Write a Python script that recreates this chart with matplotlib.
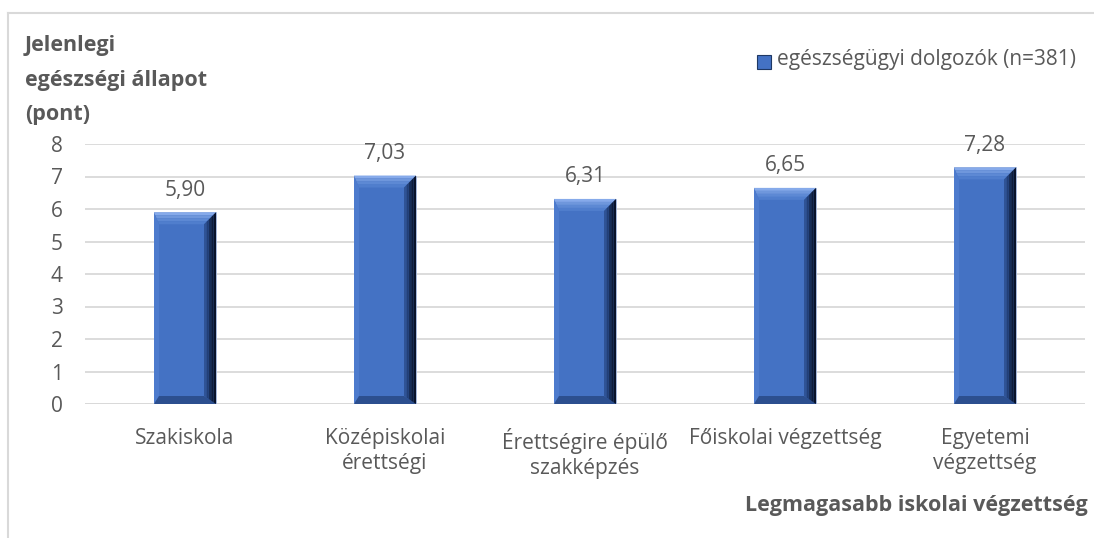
import matplotlib

matplotlib.use("Agg")
import matplotlib.pyplot as plt
from matplotlib.lines import Line2D
from matplotlib.patches import Polygon, Rectangle

categories = [
    "Szakiskola",
    "Középiskolai\nérettségi",
    "Érettségire épülő\nszakképzés",
    "Főiskolai végzettség",
    "Egyetemi\nvégzettség",
]
scores = [5.90, 7.03, 6.31, 6.65, 7.28]
series_name = "egészségügyi dolgozók (n=381)"
y_title = "Jelenlegi\negészségi állapot\n(pont)"
x_title = "Legmagasabb iskolai végzettség"
y_ticks = [0, 1, 2, 3, 4, 5, 6, 7, 8]

TEXT = "#595959"
GRID = "#d9d9d9"
FACE = "#4472c4"
FONT = "Open Sans"
FS = 15

W, H, DPI = 1094, 538, 100
fig = plt.figure(figsize=(W / DPI, H / DPI), dpi=DPI)
plt.rcParams["font.family"] = [FONT, "DejaVu Sans"]

# plot area in pixels (left, top, right, bottom)
L, T, R, B = 85, 144, 1085, 404
ax = fig.add_axes([L / W, 1 - B / H, (R - L) / W, (B - T) / H])
ax.set_xlim(-0.5, len(categories) - 0.5)
ax.set_ylim(0, 8)

# px -> data units
px_x = len(categories) / (R - L)
px_y = 8 / (B - T)

bar_w = 0.31
x = list(range(len(categories)))
ax.bar(x, scores, width=bar_w, color=FACE, edgecolor="#a7b9d9", linewidth=0.6, zorder=3)

# bevel look, a bit like the Excel one
bt, br, bl, bb = 12 * px_y, 12 * px_x, 5 * px_x, 8 * px_y
top_shades = ["#86aaea", "#6f97dc", "#5d89d4", "#507ecd"]
right_shades = ["#2f5396", "#223f78", "#172d58", "#0e1c3a", "#08122a"]
for xi, v in zip(x, scores):
    x0, x1 = xi - bar_w / 2, xi + bar_w / 2
    # top bevel in strips, light to main colour
    n = len(top_shades)
    for k, c in enumerate(top_shades):
        ya = v - bt * k / n
        yb = v - bt * (k + 1) / n
        xla = x0 + bl * k / n
        xlb = x0 + bl * (k + 1) / n
        xra = x1 - br * k / n
        xrb = x1 - br * (k + 1) / n
        ax.add_patch(Polygon([(xla, ya), (xra, ya), (xrb, yb), (xlb, yb)],
                             closed=True, facecolor=c, edgecolor="none", zorder=4))
    ax.add_patch(Polygon([(x0, v), (x0 + bl, v - bt), (x0 + bl, bb), (x0, 0)],
                         closed=True, facecolor="#4d7bcd", edgecolor="none", zorder=4))
    ax.add_patch(Polygon([(x0, 0), (x1, 0), (x1 - br, bb), (x0 + bl, bb)],
                         closed=True, facecolor="#2c4f8f", edgecolor="none", zorder=4))
    # right side, dark gradient in strips
    n = len(right_shades)
    for k, c in enumerate(right_shades):
        xa = x1 - br + br * k / n
        xb = x1 - br + br * (k + 1) / n
        ya_t = v - bt + bt * k / n
        yb_t = v - bt + bt * (k + 1) / n
        ya_b = bb - bb * k / n
        yb_b = bb - bb * (k + 1) / n
        ax.add_patch(Polygon([(xa, ya_t), (xb, yb_t), (xb, yb_b), (xa, ya_b)],
                             closed=True, facecolor=c, edgecolor="none", zorder=4))
    ax.annotate(f"{v:.2f}".replace(".", ","), (xi, v), xytext=(0, 12),
                textcoords="offset points", ha="center", va="baseline",
                fontsize=FS, color=TEXT)

ax.set_yticks(y_ticks)
ax.set_xticks(x)
ax.set_xticklabels(categories, fontsize=FS, color=TEXT, linespacing=1.3)
ax.tick_params(axis="x", length=0, pad=17)
ax.tick_params(axis="y", length=0, pad=16, labelsize=FS, labelcolor=TEXT)
ax.grid(axis="y", color=GRID, lw=1.3, zorder=0)
ax.set_axisbelow(True)
for s in ax.spines.values():
    s.set_visible(False)
ax.axhline(0, color=GRID, lw=1.3, zorder=2)

# titles
fig.text(25 / W, 1 - 35 / H, y_title, ha="left", va="top", fontsize=15.5,
         fontweight="bold", color=TEXT, linespacing=1.85)
fig.text(745 / W, 1 - 506 / H, x_title, ha="left", va="center", fontsize=15.5,
         fontweight="bold", color=TEXT)

# legend
fig.patches.append(Rectangle((757 / W, 1 - 69 / H), 14 / W, 14 / H, transform=fig.transFigure,
                             facecolor=FACE, edgecolor="#1f3864", lw=0.8))
fig.text(777 / W, 1 - 60 / H, series_name, ha="left", va="center", fontsize=FS, color=TEXT)

# chart frame
fig.lines.append(Line2D([8 / W, 1], [1 - 13 / H, 1 - 13 / H], transform=fig.transFigure,
                        color=GRID, lw=1.5))
fig.lines.append(Line2D([8 / W, 8 / W], [0, 1 - 13 / H], transform=fig.transFigure,
                        color=GRID, lw=1.5))

fig.savefig("out.png", dpi=DPI)
